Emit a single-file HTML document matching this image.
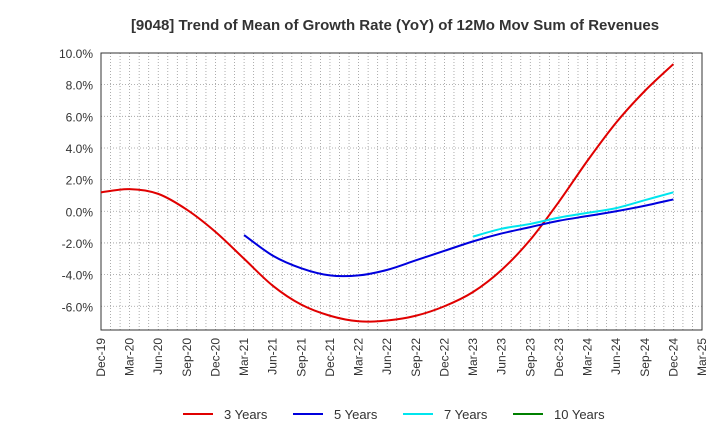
<!DOCTYPE html>
<html><head><meta charset="utf-8"><style>
body{margin:0;background:#fff;font-family:"Liberation Sans",sans-serif}
svg text{font-family:"Liberation Sans",sans-serif}
</style></head><body>
<svg id="c" width="720" height="440" xmlns="http://www.w3.org/2000/svg">
<text x="395" y="30" text-anchor="middle" font-size="15" font-weight="bold" fill="#333">[9048]  Trend of Mean of Growth Rate (YoY) of 12Mo Mov Sum of Revenues</text>
<g id="grid"></g><g id="axes"></g><g id="series"></g><g id="legend"></g>
</svg>
<script>
const xLabels=["Dec-19","Mar-20","Jun-20","Sep-20","Dec-20","Mar-21","Jun-21","Sep-21","Dec-21","Mar-22","Jun-22","Sep-22","Dec-22","Mar-23","Jun-23","Sep-23","Dec-23","Mar-24","Jun-24","Sep-24","Dec-24","Mar-25"];
const yTicks=[10,8,6,4,2,0,-2,-4,-6];
const s3=[1.2,1.4,1.1,0.1,-1.3,-3.0,-4.7,-5.9,-6.6,-6.95,-6.9,-6.6,-6.0,-5.1,-3.7,-1.8,0.6,3.2,5.6,7.6,9.3];
const s5=[null,null,null,null,null,-1.5,-2.8,-3.6,-4.05,-4.05,-3.7,-3.1,-2.5,-1.9,-1.4,-1.0,-0.6,-0.3,0.0,0.35,0.75];
const s7=[null,null,null,null,null,null,null,null,null,null,null,null,null,-1.6,-1.1,-0.8,-0.4,-0.1,0.2,0.7,1.2];
const s10=[];
const NS="http://www.w3.org/2000/svg";
const L=101,R=702,T=53,B=330,ymin=-7.5,ymax=10;
const x=i=>L+(R-L)*i/63*3;
const y=v=>T+(B-T)*(ymax-v)/(ymax-ymin);
function mk(tag,a,p){const e=document.createElementNS(NS,tag);for(const k in a)e.setAttribute(k,a[k]);p.appendChild(e);return e;}
const g=document.getElementById('grid'),ax=document.getElementById('axes');
for(let m=1;m<63;m++){const X=L+(R-L)*m/63;
const ln=mk('line',{x1:X,x2:X,y1:T,y2:B,stroke:'#999','stroke-width':0.8,'stroke-dasharray':'1,2'},g);

}
yTicks.forEach(v=>{const Y=y(v);
const ln=mk('line',{x1:L,x2:R,y1:Y,y2:Y,stroke:'#999','stroke-width':0.8,'stroke-dasharray':'1,2'},g);


const t=mk('text',{x:L-8,y:Y+5,'text-anchor':'end','font-size':12,fill:'#333'},ax);t.textContent=v.toFixed(1)+'%';

});
const fr=mk('rect',{x:L,y:T,width:R-L,height:B-T,fill:'none',stroke:'#333','stroke-width':1},ax);


xLabels.forEach((lb,i)=>{const X=x(i);
const t=mk('text',{transform:`translate(${X+4},${B+8}) rotate(-90)`,'text-anchor':'end','font-size':12,fill:'#333'},ax);t.textContent=lb;

});
function path(arr){const p=[];arr.forEach((v,i)=>{if(v!=null)p.push([x(i),y(v)])});if(p.length<2)return'';
let d=`M${p[0][0]},${p[0][1]}`;for(let i=0;i<p.length-1;i++){const p0=p[i-1]||p[i],p1=p[i],p2=p[i+1],p3=p[i+2]||p2;
d+=` C${p1[0]+(p2[0]-p0[0])/6},${p1[1]+(p2[1]-p0[1])/6} ${p2[0]-(p3[0]-p1[0])/6},${p2[1]-(p3[1]-p1[1])/6} ${p2[0]},${p2[1]}`;}return d;}
const S=document.getElementById('series');
[[s3,'#e00000','series-3-years'],[s5,'#0000dd','series-5-years'],[s7,'#00e5ee','series-7-years'],[s10,'#008000','series-10-years']].forEach(([a,c,n])=>{const d=path(a);if(!d)return;
const e=mk('path',{d:d,fill:'none',stroke:c,'stroke-width':2},S);

});
const lg=document.getElementById('legend');
[['3 Years','#e00000',183],['5 Years','#0000dd',293],['7 Years','#00e5ee',403],['10 Years','#008000',513]].forEach(([n,c,X])=>{
const l=mk('line',{x1:X,x2:X+30,y1:414,y2:414,stroke:c,'stroke-width':2},lg);


const t=mk('text',{x:X+41,y:419,'font-size':13,fill:'#333'},lg);t.textContent=n;

});
</script>
</body></html>
